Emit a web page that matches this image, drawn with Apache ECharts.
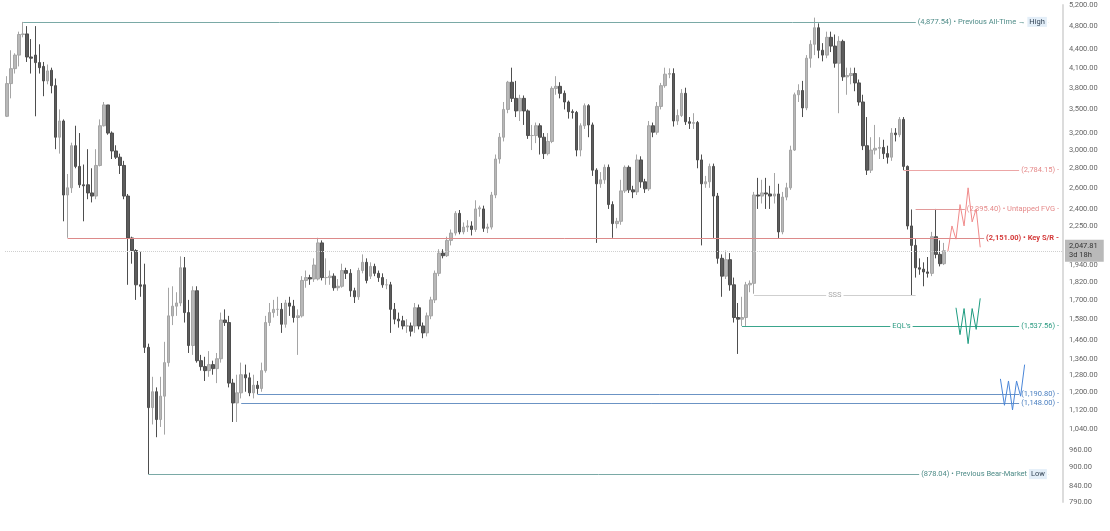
<!DOCTYPE html>
<html><head><meta charset="utf-8">
<script src="https://cdn.jsdelivr.net/npm/echarts@6/dist/echarts.min.js"></script>
<style>html,body{margin:0;padding:0;background:#fff}#c{width:1110px;height:531px}</style>
</head><body><div id="c"></div>
<script>
// weekly candles [open, close, low, high]
const ohlc = [
[3410,3860,3400,3970],[3860,4085,3650,4380],[4085,4300,4010,4330],[4300,4650,4120,4700],[4650,4660,4600,4877],
[4660,4270,4190,4800],[4270,4250,4010,4570],[4300,4180,3410,4800],[4180,4100,4010,4480],[4120,3900,3680,4190],
[3900,4050,3850,4150],[4060,3830,3720,4100],[3830,3150,3010,3935],[3150,3350,2960,3500],[3350,2530,2290,3370],
[2530,2600,2151,2740],[2600,3050,2550,3085],[3050,2820,2800,3290],[2820,2630,2600,3200],[2630,2620,2290,2840],
[2630,2550,2490,3010],[2550,2520,2460,2800],[2520,2830,2490,3010],[2830,3290,2820,3370],[3290,3560,3280,3600],
[3560,3200,3180,3560],[3200,2990,2900,3220],[2990,2920,2900,3055],[2920,2830,2740,2960],[2830,2520,2490,2880],
[2520,2150,1800,2540],[2150,2050,1950,2160],[2050,1800,1700,2060],[1800,1790,1720,2040],[1800,1420,1390,1950],
[1420,1130,878,1440],[1130,1200,1060,1270],[1200,1080,1010,1220],[1080,1180,1050,1270],[1180,1340,1020,1450],
[1340,1600,1320,1780],[1600,1660,1545,1790],[1660,1680,1600,1750],[1680,1920,1660,2005],[1920,1620,1560,2000],
[1620,1430,1390,1700],[1430,1760,1380,1790],[1760,1350,1340,1790],[1350,1320,1300,1380],[1320,1300,1250,1370],
[1300,1330,1270,1400],[1330,1310,1280,1350],[1310,1360,1240,1390],[1360,1575,1340,1620],[1575,1560,1540,1640],
[1560,1240,1220,1600],[1240,1150,1070,1260],[1150,1195,1070,1280],[1195,1280,1170,1340],[1280,1265,1200,1330],
[1265,1195,1180,1290],[1195,1230,1170,1280],[1230,1215,1190,1250],[1215,1300,1200,1340],[1300,1560,1290,1600],
[1560,1620,1540,1680],[1620,1640,1590,1700],[1640,1640,1600,1720],[1640,1550,1500,1680],[1550,1680,1530,1700],
[1680,1660,1600,1720],[1660,1590,1560,1700],[1590,1600,1380,1640],[1600,1830,1590,1860],[1830,1850,1780,1900],
[1850,1840,1800,1870],[1840,1940,1820,1990],[1840,2110,1830,2151],[2110,1850,1830,2130],[1850,1850,1800,1990],
[1850,1860,1800,1900],[1860,1780,1760,1880],[1780,1790,1760,1840],[1790,1900,1780,1950],[1900,1880,1840,1920],
[1880,1760,1720,1910],[1760,1720,1680,1780],[1720,1900,1700,1920],[1900,1960,1880,2020],[1960,1830,1810,1990],
[1860,1930,1840,1960],[1930,1880,1860,1950],[1880,1850,1820,1900],[1850,1800,1780,1880],[1800,1800,1770,1840],
[1800,1640,1500,1820],[1640,1580,1550,1680],[1580,1570,1530,1620],[1570,1540,1520,1600],[1540,1540,1500,1580],
[1540,1510,1480,1560],[1540,1650,1500,1680],[1650,1540,1520,1670],[1540,1500,1470,1560],[1500,1600,1480,1620],
[1600,1700,1580,1720],[1700,1880,1680,1900],[1880,2030,1860,2060],[2030,2010,1990,2060],[2010,2130,2000,2160],
[2130,2190,2090,2220],[2190,2360,2170,2380],[2360,2200,2180,2390],[2200,2240,2180,2280],[2240,2250,2200,2300],
[2250,2220,2170,2290],[2220,2400,2200,2480],[2400,2410,2330,2430],[2400,2230,2200,2430],[2230,2240,2190,2270],
[2240,2530,2220,2560],[2530,2900,2500,2950],[2900,3150,2850,3200],[3150,3500,3100,3600],[3500,3880,3450,3900],
[3880,3650,3600,4100],[3650,3480,3400,3900],[3480,3650,3350,3700],[3650,3480,3300,3690],[3480,3170,3130,3500],
[3170,3170,3000,3300],[3170,3290,3080,3330],[3290,3150,2950,3320],[3150,2960,2900,3200],[2960,3100,2940,3200],
[3100,3790,3080,3820],[3790,3820,3700,3970],[3820,3720,3650,3880],[3720,3600,3500,3760],[3600,3470,3380,3620],
[3470,3460,3380,3500],[3460,3000,2930,3480],[3000,3290,2930,3320],[3290,3550,3250,3580],[3550,3300,3150,3570],
[3300,2780,2720,3330],[2780,2640,2110,2800],[2640,2680,2600,2760],[2680,2810,2640,2840],[2810,2440,2400,2840],
[2440,2270,2151,2470],[2270,2290,2230,2320],[2290,2570,2260,2680],[2570,2810,2550,2830],[2810,2580,2550,2830],
[2580,2560,2500,2620],[2560,2890,2530,2950],[2890,2660,2600,2930],[2660,2590,2550,2690],[2590,3290,2570,3350],
[3290,3210,3150,3330],[3210,3540,3180,3600],[3540,3830,3500,3870],[3830,4000,3800,4100],[4000,4010,3940,4090],
[4010,3350,3280,4090],[3350,3420,3300,3500],[3420,3720,3400,3780],[3720,3340,3300,3800],[3340,3320,3250,3400],
[3320,3330,3250,3450],[3330,2890,2800,3350],[2890,2640,2090,2950],[2640,2660,2600,2720],[2660,2820,2600,2850],
[2820,2520,2150,2850],[2520,1990,1950,2550],[1990,1860,1720,2020],[1860,1980,1840,2050],[1980,1800,1760,2030],
[1800,1590,1560,1850],[1590,1580,1385,1680],[1580,1590,1540,1720],[1590,1800,1540,1820],[1800,1810,1750,1830],
[1810,2530,1740,2560],[2530,2520,2400,2700],[2520,2550,2450,2680],[2550,2540,2400,2700],[2540,2520,2400,2620],
[2520,2540,2450,2750],[2540,2200,2150,2640],[2200,2510,2180,2560],[2510,2600,2480,2650],[2600,3000,2580,3050],
[3000,3700,2990,3730],[3700,3760,3600,3850],[3760,3520,3400,3900],[3520,4250,3490,4300],[4250,4480,4100,4550],
[4480,4770,4300,4957],[4770,4380,4250,4850],[4380,4300,4200,4500],[4300,4600,4250,4700],[4600,4450,4350,4700],
[4450,4170,4100,4650],[4170,4530,3450,4620],[4530,3960,3900,4560],[3960,3980,3700,4100],[3980,4010,3850,4100],
[4010,3870,3750,4100],[3870,3600,3550,3920],[3600,3050,3000,3700],[3050,2780,2730,3400],[2780,3000,2750,3150],
[3000,3020,2950,3300],[3020,3030,2900,3150],[3030,2960,2900,3120],[2960,2920,2850,3050],[2920,3200,2880,3260],
[3200,3180,3100,3260],[3180,3370,3150,3400],[3370,2820,2780,3400],[2820,2250,2220,2830],[2250,2090,1730,2395],
[2090,1920,1850,2140],[1920,1910,1870,1990],[1910,1890,1790,1960],[1890,1880,1850,2000],[1880,2160,1860,2200],
[2160,2020,1990,2400],[2020,1950,1930,2130],[1950,2048,1940,2110]
];
const padCount = 29;
const categories = ohlc.map((d,i)=>'W'+i).concat(Array.from({length:padCount},(d,i)=>'P'+i));
const yTicks = [5200,4800,4400,4100,3800,3500,3200,3000,2800,2600,2400,2250,2100,1940,1820,1700,1580,1460,1360,1280,1200,1120,1040,960,900,840,790];
const levels = {ath:4877.54, high:4957.67, r1:2784.15, fvg:2395.40, keySR:2151.00, sss:1730, eql:1537.56, s1:1190.80, s2:1148.00, bear:878.04, last:2047.81};
// projected paths [categoryIndex, price]
const redPath = [[233,2045],[234,2250],[235,2140],[236,2440],[237,2250],[238,2600],[239,2285],[240,2400],[241,2075]];
const tealPath = [[235,1650],[236,1490],[237,1645],[238,1440],[239,1645],[240,1520],[241,1710]];
const bluePath = [[246,1260],[247,1140],[248,1250],[249,1120],[250,1250],[251,1180],[252,1330]];

const END = categories.length - 1;
const fmt = v => v.toLocaleString('en-US',{minimumFractionDigits:2,maximumFractionDigits:2});
const F = 'Roboto, Arial, sans-serif';
function seg(x0,x1,y,color,label,lblPos,opts){
  opts = opts||{};
  return {type:'line',data:[],silent:true,z:4,markLine:{silent:true,symbol:['none','none'],animation:false,
    lineStyle:{color:color,width:1,type:opts.dash||'solid'},
    label:{show:!!label,position:lblPos||'insideEnd',formatter:label||'',color:opts.lc||color,fontSize:7.5,fontFamily:F,
      backgroundColor:'#fff',padding:[1,2],distance:0,fontWeight:opts.bold?'bold':'normal',rich:opts.rich},
    data:[[{coord:[x0,y]},{coord:[x1,y]}]]}};
}
function path(pts,color){
  const n = pts.length;
  const down = pts[n-1][1] < pts[n-2][1];
  return {type:'line',silent:true,animation:false,z:6,lineStyle:{color:color,width:1},symbol:'none',
    data:pts.map((p,i)=>({value:p,symbol:i===n-1?'path://M0,10 L5,0 L10,10':'none',symbolSize:[6,5],
      symbolRotate: down ? 180 : 0,
      itemStyle:{color:'rgba(0,0,0,0)',borderColor:color,borderWidth:1}}))};
}
const series = [
  {type:'candlestick',data:ohlc,barWidth:3,
   itemStyle:{color:'#b8b8b8',color0:'#5c5c5c',borderColor:'#a5a5a5',borderColor0:'#4e4e4e',borderWidth:1}},
  {type:'line',data:[],silent:true,markLine:{silent:true,symbol:['none','none'],animation:false,
    lineStyle:{color:'#cfcfcf',type:'dotted',width:1},
    label:{position:'end',distance:2,formatter:fmt(levels.last)+'\n3d 18h',backgroundColor:'#b9b9b9',color:'#333',
      fontSize:7.5,fontFamily:F,padding:[2,6,2,4],lineHeight:9},data:[{yAxis:levels.last}]}},
  {type:'line',data:[],silent:true,markLine:{silent:true,symbol:['none','none'],animation:false,lineStyle:{opacity:0},
    label:{position:'end',distance:2,backgroundColor:'#e3eef8',color:'#345',fontSize:7.5,fontFamily:F,padding:[1,8,1,4],
      formatter:p=>fmt(p.value)},data:[{yAxis:levels.high},{yAxis:levels.bear}]}},
  seg(4,END-3,levels.ath,'#7aa9a6','('+fmt(levels.ath)+') • Previous All-Time → {b|High}','insideEnd',
      {lc:'#4f8c88',rich:{b:{backgroundColor:'#e3eef8',color:'#345',fontSize:7.5,padding:[1,2]}}}),
  seg(222,END,levels.r1,'#eca6a6','('+fmt(levels.r1)+') -','insideEnd',{lc:'#e58a8a'}),
  seg(225,END,levels.fvg,'#e29a9a','('+fmt(levels.fvg)+') • Untapped FVG -','insideEnd',{lc:'#e58a8a'}),
  seg(15,END,levels.keySR,'#dd8a8a','('+fmt(levels.keySR)+') • Key S/R -','insideEnd',{lc:'#d43a3a',bold:true}),
  seg(185,225,levels.sss,'#cfcfcf','SSS','insideMiddle',{lc:'#aaa'}),
  seg(182,END,levels.eql,'#3aa58c',"EQL's",'insideMiddle',{lc:'#2a9a80'}),
  seg(182,END,levels.eql,'#3aa58c','('+fmt(levels.eql)+') -','insideEnd',{lc:'#2a9a80'}),
  seg(62,END,levels.s1,'#6b93c4','('+fmt(levels.s1)+') -','insideEnd',{lc:'#4a7fc0'}),
  seg(58,END,levels.s2,'#6b93c4','('+fmt(levels.s2)+') -','insideEnd',{lc:'#4a7fc0'}),
  seg(35,END-3,levels.bear,'#7aa9a6','('+fmt(levels.bear)+') • Previous Bear-Market {b|Low}','insideEnd',
      {lc:'#4f8c88',rich:{b:{backgroundColor:'#e3eef8',color:'#345',fontSize:7.5,padding:[1,2]}}}),
  path(redPath,'#f08a8a'),
  path(tealPath,'#1e9c80'),
  path(bluePath,'#4a86d8')
];
const chart = echarts.init(document.getElementById('c'));
chart.setOption({
  animation:false,
  grid:{left:5,right:47,top:5,bottom:29},
  xAxis:{type:'category',data:categories,boundaryGap:true,axisLine:{show:false},axisTick:{show:false},axisLabel:{show:false},splitLine:{show:false}},
  yAxis:{type:'log',logBase:10,min:790,max:5200,position:'right',axisLine:{show:true,lineStyle:{color:'#dcdcdc',width:2}},
    axisTick:{show:false},splitLine:{show:false},
    axisLabel:{show:true,customValues:yTicks,formatter:v=>fmt(v),color:'#666',fontSize:7.5,fontFamily:F,margin:6}},
  series:series
});
</script></body></html>
